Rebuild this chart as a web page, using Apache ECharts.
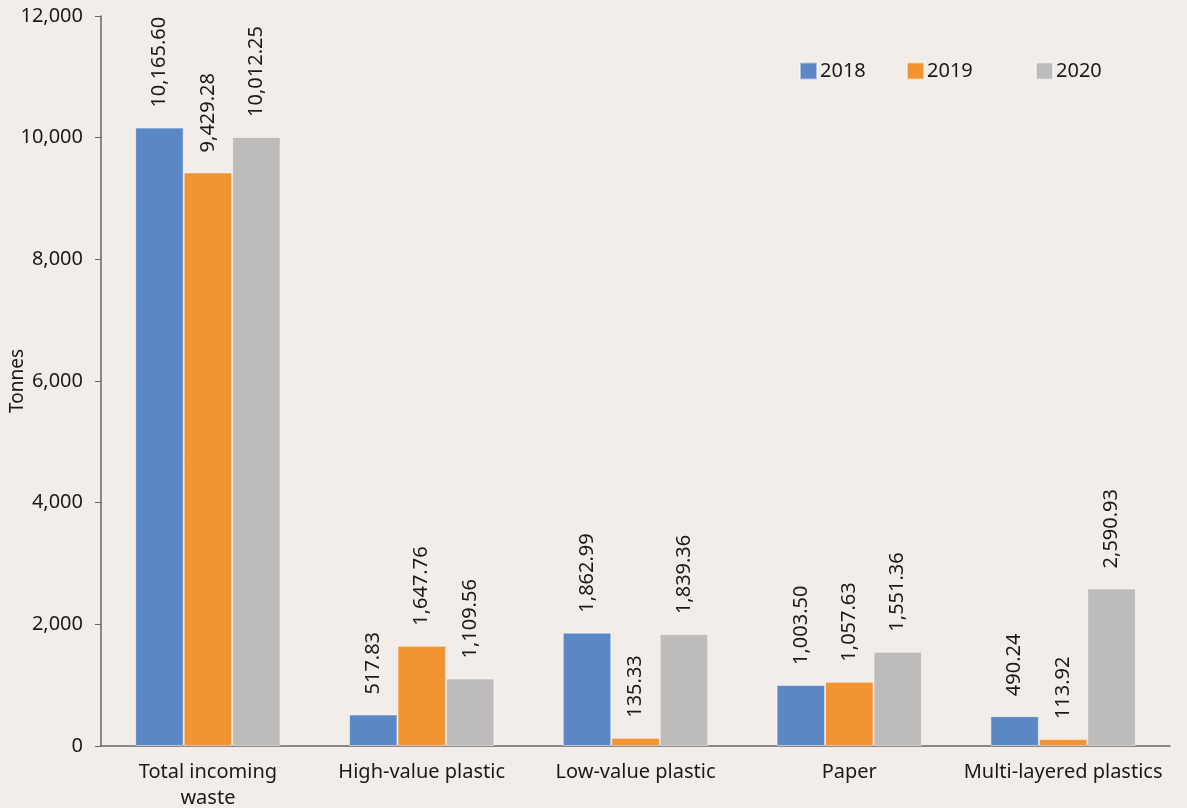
<!DOCTYPE html>
<html><head><meta charset="utf-8">
<script src="https://cdn.jsdelivr.net/npm/echarts@6/dist/echarts.min.js"></script>
<style>html,body{margin:0;padding:0;background:#f2ede8}#c{width:1187px;height:808px}</style>
</head><body><div id="c"></div>
<script>
const categories = ['Total incoming waste','High-value plastic','Low-value plastic','Paper','Multi-layered plastics'];
const v2018 = [10165.60, 517.83, 1862.99, 1003.50, 490.24];
const v2019 = [9429.28, 1647.76, 135.33, 1057.63, 113.92];
const v2020 = [10012.25, 1109.56, 1839.36, 1551.36, 2590.93];
const seriesNames = ['2018','2019','2020'];
const colors = ['#5b87c5','#f39433','#bdbcbb'];
const FONT = 'Noto Sans';
const fmt = v => v.toLocaleString('en-US',{minimumFractionDigits:2,maximumFractionDigits:2});
const chart = echarts.init(document.getElementById('c'));
const mkSeries = (name, data, color) => ({
  name, type:'bar', data, barGap:'0%', barCategoryGap:'32%',
  itemStyle:{color, borderColor:'rgba(255,255,255,0.5)', borderWidth:1},
  label:{show:true, position:'top', rotate:90, align:'left', verticalAlign:'middle', distance:20,
    formatter:p=>fmt(p.value), fontFamily:FONT, fontSize:20, color:'#1a1a1a'}
});
const legendBase = (name, left) => ({
  data:[name], left, top:56, itemWidth:17, itemHeight:17, itemGap:0,
  textStyle:{fontFamily:FONT, fontSize:20, color:'#1a1a1a', padding:[0,0,0,-2]},
  icon:'rect'
});
chart.setOption({
  backgroundColor:'#f2ede8',
  color: colors,
  animation:false,
  legend:[legendBase('2018',794), legendBase('2019',901), legendBase('2020',1030)],
  grid:{left:101, right:17, top:16, bottom:62, containLabel:false, outerBoundsMode:'none'},
  xAxis:{type:'category', data:categories,
    axisLine:{lineStyle:{color:'#6b6560', width:1.5}},
    axisTick:{show:false},
    axisLabel:{interval:0, fontFamily:FONT, fontSize:20, color:'#1a1a1a', margin:13, lineHeight:26,
      formatter:v=>v==='Total incoming waste'?'Total incoming\nwaste':v}
  },
  yAxis:{type:'value', min:0, max:12000, interval:2000,
    name:'Tonnes', nameLocation:'middle', nameGap:74, nameRotate:90, nameMoveOverlap:false,
    nameTextStyle:{fontFamily:FONT, fontSize:19, color:'#1a1a1a'},
    axisLine:{show:true, lineStyle:{color:'#6b6560', width:1.5}},
    axisTick:{show:true, length:6, lineStyle:{color:'#6b6560'}},
    splitLine:{show:false},
    axisLabel:{fontFamily:FONT, fontSize:20, color:'#1a1a1a', margin:18,
      formatter:v=>v.toLocaleString('en-US')}
  },
  series:[mkSeries(seriesNames[0], v2018, colors[0]), mkSeries(seriesNames[1], v2019, colors[1]), mkSeries(seriesNames[2], v2020, colors[2])]
});
</script></body></html>
